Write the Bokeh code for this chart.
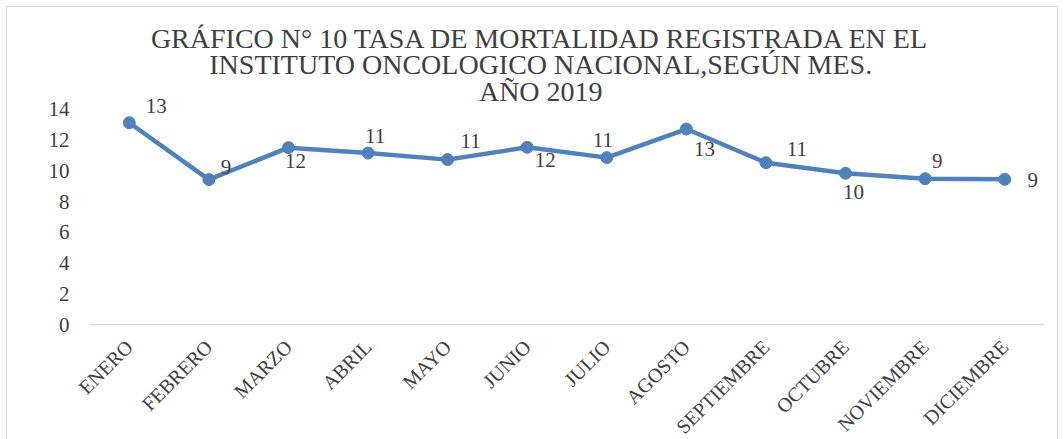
from math import pi
from bokeh.plotting import figure
from bokeh.models import ColumnDataSource, FactorRange, LabelSet, Label, FixedTicker, Range1d
from bokeh.embed import file_html
from bokeh.resources import INLINE
from bokeh.core.properties import value

# ---- data ----
meses = ["ENERO", "FEBRERO", "MARZO", "ABRIL", "MAYO", "JUNIO", "JULIO",
         "AGOSTO", "SEPTIEMBRE", "OCTUBRE", "NOVIEMBRE", "DICIEMBRE"]
tasas = [13.13, 9.43, 11.51, 11.16, 10.73, 11.53, 10.86, 12.72, 10.53, 9.84, 9.49, 9.45]
y_ticks = [0, 2, 4, 6, 8, 10, 12, 14]
titulo = ["GRÁFICO N° 10 TASA DE MORTALIDAD REGISTRADA EN EL",
          "INSTITUTO ONCOLOGICO NACIONAL,SEGÚN MES.",
          "AÑO 2019"]

# ---- label placement (style, screen px) ----
label_dx = [27, 17, 7, 7, 23, 18, -4, 18, 31, 8, 12, 28]
label_dy = [17, 13, -13, 17, 19, -13, 18, -20, 14, -19, 18, -1]

FONT = "'Liberation Serif', 'Times New Roman', serif"
TEXT = "#404040"
BLUE = "#4F81BD"

src = ColumnDataSource(dict(
    mes=meses,
    tasa=tasas,
    etiqueta=[f"{v:.0f}" for v in tasas],
    dx=label_dx,
    dy=label_dy,
))

p = figure(
    x_range=FactorRange(factors=meses, range_padding=0),
    y_range=Range1d(0, 20.63),
    frame_width=955, frame_height=317,
    min_border_left=82, min_border_right=13,
    min_border_top=0, min_border_bottom=111,
    output_backend="svg", toolbar_location=None,
)
p.styles = {"border": "1px solid #d9d9d9", "margin": "6px 0 0 6px"}
p.outline_line_color = None
p.xgrid.visible = False
p.ygrid.visible = False

ya = p.yaxis[0]
ya.ticker = FixedTicker(ticks=y_ticks)
ya.axis_line_color = None
ya.major_tick_line_color = None
ya.minor_tick_line_color = None
ya.major_label_text_font = FONT
ya.major_label_text_font_size = "21px"
ya.major_label_text_color = TEXT
ya.major_label_standoff = 14

xa = p.xaxis[0]
xa.axis_line_color = "#d9d9d9"
xa.axis_line_width = 1.5
xa.major_tick_line_color = None
xa.minor_tick_line_color = None
xa.major_label_orientation = pi / 4
xa.major_label_text_font = FONT
xa.major_label_text_font_size = "20px"
xa.major_label_text_color = TEXT
xa.major_label_standoff = 13

p.line(x="mes", y="tasa", source=src, line_width=4.5, line_color=BLUE)
p.scatter(x="mes", y="tasa", source=src, size=12, fill_color=BLUE, line_color=BLUE)

labels = LabelSet(x="mes", y="tasa", text="etiqueta", x_offset="dx", y_offset="dy",
                  source=src, text_align="center", text_baseline="middle",
                  text_font=value(FONT), text_font_size="21px", text_color=TEXT)
p.add_layout(labels)

title_y = [18.62, 16.9, 15.18]
for t, yy in zip(titulo, title_y):
    p.add_layout(Label(x=5.67, y=yy, text=t, text_align="center", text_baseline="middle",
                       text_font=FONT, text_font_size="28px", text_color=TEXT))

open("out.html", "w").write(file_html(p, INLINE))
